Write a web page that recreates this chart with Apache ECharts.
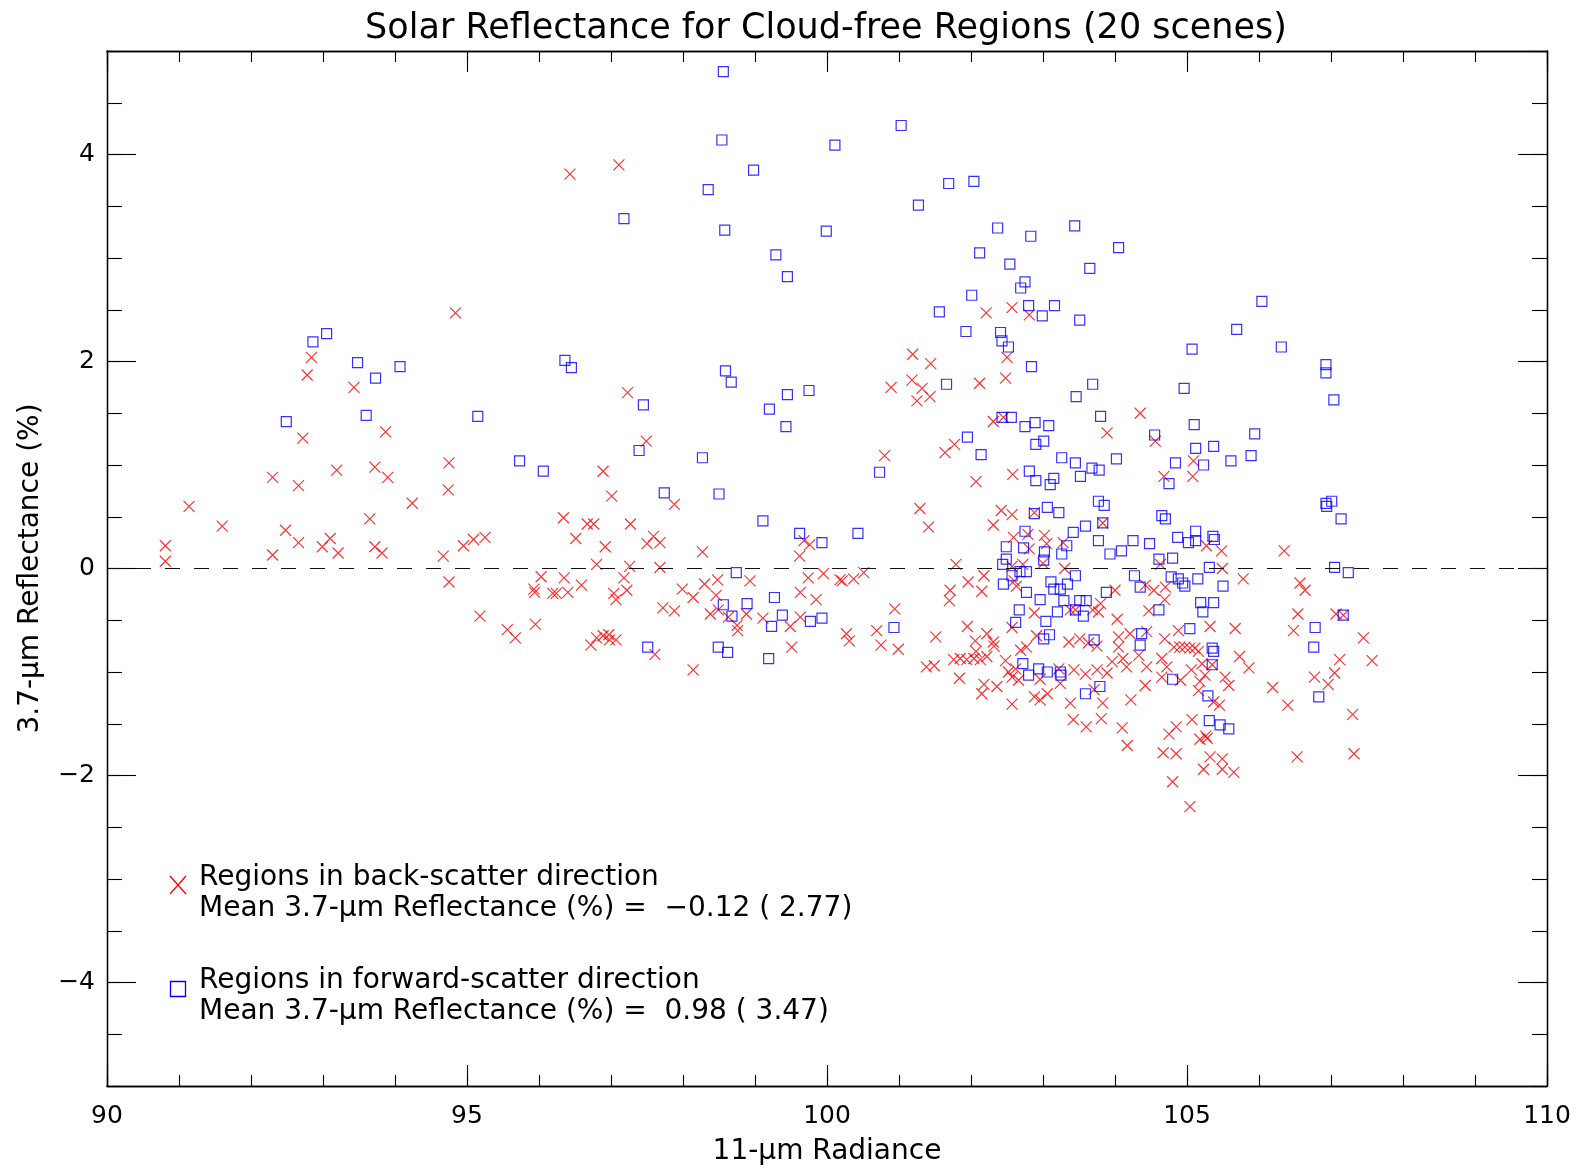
<!DOCTYPE html>
<html>
<head>
<meta charset="utf-8">
<script src="https://cdn.jsdelivr.net/npm/echarts@6/dist/echarts.min.js"></script>
<style>html,body{margin:0;padding:0;background:#fff}#chart{width:1576px;height:1171px}</style>
</head>
<body>
<div id="chart"></div>
<script>
const FONT = 'DejaVu Sans';
const titleText = 'Solar Reflectance for Cloud-free Regions (20 scenes)';
const xName = '11-μm Radiance';
const yName = '3.7-μm Reflectance (%)';
const xRange = [90, 110];
const yRange = [-5, 5];
const xMajorStep = 5;
const xMinorStep = 1;
const yMinorStep = 0.5;
const yMajorTicks = [-4, -2, 0, 2, 4];
const backLabel = 'Regions in back-scatter direction';
const backStats = 'Mean 3.7-μm Reflectance (%) =  −0.12 ( 2.77)';
const fwdLabel = 'Regions in forward-scatter direction';
const fwdStats = 'Mean 3.7-μm Reflectance (%) =  0.98 ( 3.47)';

// back-scatter regions: [11-um radiance, 3.7-um reflectance %]
const backScatter = [
[94.84,2.47],[92.84,2.04],[92.78,1.87],[93.43,1.75],[93.87,1.32],[92.72,1.26],[92.30,0.88],[92.66,0.80],[93.19,0.95],[93.72,0.98],
[93.90,0.88],[94.75,1.02],[94.74,0.76],[94.24,0.63],[91.14,0.60],[91.60,0.41],[93.65,0.48],[92.48,0.37],[92.66,0.25],[93.10,0.29],
[92.99,0.21],[93.21,0.15],[93.72,0.21],[93.82,0.15],[90.81,0.22],[90.81,0.07],[92.30,0.13],[94.67,0.12],[94.95,0.22],[95.09,0.28],
[95.25,0.30],[94.75,-0.13],[95.18,-0.46],
[97.11,3.90],[96.43,3.81],[97.23,1.70],[101.19,2.07],[101.44,1.98],[101.18,1.82],[100.89,1.75],[101.32,1.74],[101.43,1.66],[101.25,1.62],
[97.49,1.23],[96.89,0.94],[100.80,1.09],
[102.21,2.47],[102.57,2.52],[102.81,2.45],[102.50,2.04],[102.48,1.84],[102.12,1.79],
[97.01,0.70],[97.88,0.62],[96.34,0.49],[96.67,0.43],[96.76,0.43],[97.27,0.43],[96.51,0.29],[96.92,0.21],[97.50,0.24],[97.59,0.31],
[97.68,0.25],[98.27,0.16],[99.68,0.27],[99.76,0.23],[99.62,0.12],[101.29,0.58],[101.41,0.40],[96.80,0.04],[97.26,0.02],[97.68,0.01],
[96.03,-0.08],[96.35,-0.09],[96.59,-0.16],[95.93,-0.20],[95.94,-0.23],[96.19,-0.24],[96.24,-0.24],[96.40,-0.23],[97.18,-0.09],[97.22,-0.21],
[97.04,-0.24],[97.07,-0.30],[97.99,-0.20],[98.14,-0.28],[98.30,-0.15],[98.48,-0.11],[98.46,-0.26],[98.93,-0.12],[97.72,-0.38],[97.88,-0.41],
[98.38,-0.44],[98.49,-0.40],[98.63,-0.47],[98.75,-0.55],[98.76,-0.60],[98.88,-0.44],[99.11,-0.48],[99.49,-0.56],[99.63,-0.47],[99.63,-0.23],
[99.74,-0.09],[99.85,-0.30],[99.95,-0.05],[100.18,-0.11],[100.21,-0.12],[100.37,-0.10],[100.51,-0.04],[100.94,-0.39],[100.69,-0.60],[100.27,-0.63],
[100.31,-0.70],[100.75,-0.74],[100.99,-0.78],[101.51,-0.66],[101.38,-0.95],[101.49,-0.94],[99.51,-0.76],[98.14,-0.98],[97.61,-0.83],[95.56,-0.59],
[95.67,-0.67],[95.95,-0.54],[96.72,-0.74],[96.80,-0.67],[96.89,-0.65],[96.98,-0.69],[97.07,-0.69],[96.97,-0.64],
[104.35,1.50],[102.31,1.42],[102.45,1.46],[103.89,1.31],[104.56,1.23],[101.77,1.20],[101.64,1.12],[105.09,1.04],[105.08,0.89],[104.68,0.89],
[102.58,0.91],[102.07,0.84],[102.42,0.56],[102.57,0.52],[102.31,0.42],[102.88,0.54],[103.83,0.44],[102.59,0.30],[102.79,0.33],[103.02,0.32],
[103.05,0.24],[103.28,0.25],[102.81,0.19],[105.27,0.22],[105.48,0.17],[104.63,0.04],[102.57,0.02],[102.72,0.04],[103.00,0.05],[103.30,0.00],
[101.79,0.04],[105.49,0.00],[105.78,-0.10],[102.18,-0.07],[101.96,-0.13],[101.71,-0.21],[102.15,-0.22],[102.63,-0.17],[102.60,-0.12],[104.42,-0.16],
[104.54,-0.21],[104.70,-0.18],[104.00,-0.21],
[101.70,-0.31],[103.80,-0.34],[104.69,-0.30],[102.88,-0.43],[103.38,-0.40],[103.45,-0.40],[103.69,-0.40],[103.77,-0.42],[104.03,-0.49],[104.47,-0.41],
[105.32,-0.56],[104.88,-0.60],[105.67,-0.58],[102.57,-0.57],[101.95,-0.56],[102.22,-0.63],[102.06,-0.70],[102.31,-0.71],[102.32,-0.75],[102.91,-0.65],
[102.77,-0.76],[102.69,-0.79],[103.36,-0.71],[103.51,-0.68],[103.63,-0.72],[103.75,-0.75],[104.05,-0.66],[104.05,-0.76],[104.21,-0.63],[104.44,-0.61],
[104.69,-0.68],[104.82,-0.76],[104.90,-0.76],[104.97,-0.76],[105.04,-0.77],[105.11,-0.77],[105.16,-0.80],[105.35,-0.93],[105.73,-0.85],[105.86,-0.96],
[101.76,-0.88],[101.85,-0.87],[101.94,-0.88],[102.04,-0.87],[102.13,-0.88],[102.22,-0.85],[102.07,-0.80],[102.48,-0.89],[102.52,-1.00],[102.62,-0.97],
[102.96,-1.07],[102.66,-1.08],[102.57,-1.05],[103.22,-0.97],[103.43,-0.98],[103.59,-1.02],[103.75,-0.98],[103.89,-1.01],[103.96,-0.90],[104.11,-0.87],
[104.16,-0.95],[104.33,-0.84],[104.44,-0.95],[104.42,-1.13],[104.65,-0.87],[104.72,-0.95],[104.65,-1.05],[104.91,-1.08],[105.06,-0.98],[105.21,-0.92],
[105.25,-1.03],[105.18,-1.09],[105.16,-1.18],[105.53,-1.05],[105.58,-1.13],[105.37,-1.29],[105.45,-1.32],[103.71,-1.17],[103.83,-1.30],[103.38,-1.30],
[103.24,-1.11],[102.88,-1.24],[102.96,-1.27],[103.06,-1.21],[102.57,-1.31],[102.18,-1.12],[102.15,-1.21],[102.36,-1.14],[101.84,-1.06],[104.22,-1.27],
[104.10,-1.54],[104.17,-1.71],[103.42,-1.46],[103.60,-1.53],[103.81,-1.45],[104.75,-1.60],[104.85,-1.53],[105.07,-1.46],[104.67,-1.78],[104.85,-1.79],
[104.80,-2.06],[105.04,-2.30],[105.18,-1.65],[105.26,-1.62],[105.28,-1.64],[105.32,-1.82],[105.23,-1.94],[105.49,-1.84],[105.49,-1.94],[105.65,-1.97],
[106.35,0.17],[106.57,-0.14],[106.64,-0.21],[106.54,-0.44],[107.07,-0.44],[107.17,-0.45],[106.48,-0.60],[107.45,-0.67],[107.12,-0.88],[107.57,-0.89],
[107.05,-1.01],[106.77,-1.05],[106.96,-1.12],[106.19,-1.15],[106.40,-1.32],[107.30,-1.41],[106.53,-1.82],[107.32,-1.79]
];

// forward-scatter regions: [11-um radiance, 3.7-um reflectance %]
const forwardScatter = [
[98.56,4.80],[98.54,4.14],[101.03,4.28],[100.11,4.09],[98.98,3.85],[98.35,3.66],[101.69,3.72],[102.04,3.74],[97.18,3.38],[101.27,3.51],
[98.58,3.27],[99.99,3.26],[102.37,3.29],[103.44,3.31],[102.83,3.21],[104.05,3.10],[99.29,3.03],[102.12,3.05],[99.45,2.82],[102.54,2.94],
[103.65,2.90],[102.75,2.77],[102.69,2.71],[102.01,2.64],[101.56,2.48],[102.80,2.54],[103.16,2.54],[102.99,2.44],[103.51,2.40],[106.04,2.58],
[105.69,2.31],[106.31,2.14],[105.07,2.12],[101.93,2.29],[102.41,2.28],[102.43,2.20],[102.52,2.14],[102.84,1.95],[101.66,1.78],[103.69,1.78],
[104.96,1.74],[96.36,2.01],[96.45,1.94],[98.59,1.91],[98.67,1.80],[97.45,1.58],[99.45,1.68],[99.75,1.72],[99.20,1.54],[99.43,1.37],
[97.39,1.14],[95.73,1.04],[96.06,0.94],[98.27,1.07],[100.73,0.93],[95.15,1.47],
[92.86,2.19],[93.05,2.27],[93.48,1.99],[93.73,1.84],[94.07,1.95],[92.49,1.42],[93.60,1.48],
[97.74,0.73],[98.50,0.72],[99.11,0.46],[99.62,0.34],[99.93,0.25],[100.43,0.34],[98.74,-0.04],[98.56,-0.35],[98.68,-0.46],[98.89,-0.34],
[99.27,-0.28],[99.23,-0.56],[99.38,-0.45],[99.77,-0.51],[99.93,-0.48],[100.93,-0.57],[99.19,-0.87],[98.49,-0.76],[98.62,-0.81],[97.51,-0.76],
[103.46,1.66],[103.80,1.47],[105.10,1.39],[102.43,1.46],[102.56,1.46],[102.75,1.37],[102.89,1.41],[103.08,1.38],[104.55,1.29],[101.95,1.27],
[102.14,1.10],[102.90,1.20],[103.01,1.23],[105.94,1.30],[105.89,1.09],[105.61,1.04],[105.37,1.18],[105.12,1.16],[105.23,1.00],[104.84,1.02],
[104.75,0.82],[103.26,1.07],[103.45,1.02],[103.68,0.97],[103.78,0.95],[104.02,1.06],[102.81,0.94],[102.90,0.85],[103.15,0.87],[103.52,0.89],
[103.10,0.81],[103.77,0.65],[103.85,0.61],[102.88,0.53],[103.06,0.59],[103.22,0.54],[104.65,0.51],[104.70,0.48],[103.83,0.44],[103.59,0.41],
[103.42,0.35],[102.75,0.36],[103.33,0.22],[102.49,0.21],[102.73,0.20],[103.02,0.16],[103.26,0.14],[103.77,0.27],[103.93,0.14],[104.09,0.17],
[104.25,0.27],[104.48,0.24],[104.87,0.30],[105.02,0.25],[105.12,0.36],[105.12,0.27],[105.36,0.31],[105.38,0.28],[104.80,0.10],[104.61,0.09],
[102.49,0.09],[102.44,0.04],[103.01,0.08],[105.31,0.01],[102.45,-0.15],[102.57,-0.07],[102.68,-0.03],[102.77,-0.03],[103.11,-0.13],[103.45,-0.07],
[103.34,-0.15],[103.15,-0.20],[103.24,-0.20],[104.27,-0.07],[104.78,-0.08],[104.88,-0.10],[104.94,-0.14],[104.97,-0.17],[105.15,-0.10],[105.50,-0.17],
[104.35,-0.18],[103.88,-0.23],
[102.77,-0.23],[102.96,-0.30],[103.29,-0.31],[103.51,-0.31],[103.60,-0.31],[102.67,-0.40],[103.20,-0.42],[103.45,-0.40],[103.56,-0.46],[104.61,-0.40],
[105.19,-0.33],[105.37,-0.33],[105.22,-0.42],[105.04,-0.58],[102.62,-0.52],[103.04,-0.51],[103.01,-0.68],[103.09,-0.64],[103.71,-0.69],[104.37,-0.63],
[104.35,-0.74],[105.35,-0.77],[105.37,-0.80],[105.35,-0.93],[102.72,-0.92],[102.80,-1.03],[102.94,-0.97],[103.06,-1.00],[103.24,-1.00],[103.25,-1.03],
[104.80,-1.07],[105.29,-1.23],[103.79,-1.14],[103.59,-1.21],[105.31,-1.47],[105.46,-1.51],[105.58,-1.55],
[106.93,1.97],[106.93,1.89],[107.04,1.63],[107.01,0.65],[106.93,0.63],[106.94,0.60],[107.14,0.48],[107.05,0.01],[107.24,-0.04],[107.17,-0.45],
[106.78,-0.57],[106.76,-0.76],[106.83,-1.24]
];

const chart = echarts.init(document.getElementById('chart'), null, {renderer: 'canvas'});
const BLACK = '#000';
const axisLine = {show: true, onZero: false, lineStyle: {color: BLACK, width: 1.3}};
const fmt = v => (v < 0 ? '−' + Math.abs(v) : String(v));

function xAxisDef(pos, major) {
  const labelled = major && pos === 'bottom';
  return {
    type: 'value', position: pos, min: xRange[0], max: xRange[1],
    interval: major ? xMajorStep : xMinorStep,
    axisLine: axisLine,
    axisTick: {show: true, inside: true, length: major ? 21 : 11, lineStyle: {color: BLACK, width: 1.1}},
    axisLabel: {show: labelled, margin: 18, fontSize: 25, fontFamily: FONT, color: BLACK, formatter: fmt},
    splitLine: {show: false},
    name: labelled ? xName : '', nameLocation: 'middle', nameGap: 52,
    nameTextStyle: {fontSize: 28, fontFamily: FONT, color: BLACK}
  };
}
function yAxisDef(pos, major) {
  const labelled = major && pos === 'left';
  const a = {
    type: 'value', position: pos, min: yRange[0], max: yRange[1],
    axisLine: axisLine,
    axisTick: {show: true, inside: true, length: major ? 29 : 15, lineStyle: {color: BLACK, width: 1.1}},
    axisLabel: {show: labelled, margin: 12, fontSize: 25, fontFamily: FONT, color: BLACK, formatter: fmt},
    splitLine: {show: false},
    name: labelled ? yName : '', nameLocation: 'middle', nameGap: 62,
    nameTextStyle: {fontSize: 28, fontFamily: FONT, color: BLACK}
  };
  if (major) {
    a.axisTick.customValues = yMajorTicks;
    a.axisLabel.customValues = yMajorTicks;
  } else {
    a.interval = yMinorStep;
  }
  return a;
}

const legendText = (t, y) => ({
  type: 'text', x: 199, y: y, silent: true,
  style: {text: t, fontSize: 28, fontFamily: FONT, fill: BLACK, align: 'left', verticalAlign: 'middle'}
});

chart.setOption({
  animation: false,
  backgroundColor: '#fff',
  grid: {left: 107, right: 29, top: 51, bottom: 80, containLabel: false},
  xAxis: [xAxisDef('bottom', true), xAxisDef('bottom', false), xAxisDef('top', true), xAxisDef('top', false)],
  yAxis: [yAxisDef('left', true), yAxisDef('left', false), yAxisDef('right', true), yAxisDef('right', false)],
  series: [
    {
      type: 'scatter', name: backLabel, data: backScatter, xAxisIndex: 0, yAxisIndex: 0,
      symbol: 'path://M0,0L10,10M10,0L0,10', symbolSize: 11,
      itemStyle: {color: 'rgba(0,0,0,0)', borderColor: '#ff0000', borderWidth: 1.2},
      emphasis: {disabled: true}, z: 3,
      markLine: {
        silent: true, symbol: ['none', 'none'], label: {show: false}, animation: false,
        lineStyle: {color: '#111', type: [15, 14], width: 1.2},
        emphasis: {disabled: true},
        data: [{yAxis: 0}]
      }
    },
    {
      type: 'scatter', name: fwdLabel, data: forwardScatter, xAxisIndex: 0, yAxisIndex: 0,
      symbol: 'rect', symbolSize: 10,
      itemStyle: {color: 'rgba(0,0,0,0)', borderColor: '#0000ff', borderWidth: 1.2},
      emphasis: {disabled: true}, z: 4
    }
  ],
  graphic: [
    {type: 'text', x: 826, y: 29, silent: true,
     style: {text: titleText, fontSize: 35, fontFamily: FONT, fill: BLACK, align: 'center', verticalAlign: 'middle'}},
    {type: 'line', silent: true, shape: {x1: 170, y1: 876, x2: 186, y2: 894}, style: {stroke: '#ff0000', lineWidth: 1.3}},
    {type: 'line', silent: true, shape: {x1: 186, y1: 876, x2: 170, y2: 894}, style: {stroke: '#ff0000', lineWidth: 1.3}},
    {type: 'rect', silent: true, shape: {x: 170.5, y: 981.5, width: 15, height: 15}, style: {fill: 'none', stroke: '#0000ff', lineWidth: 1.3}},
    legendText(backLabel, 878),
    legendText(backStats, 909),
    legendText(fwdLabel, 981),
    legendText(fwdStats, 1012)
  ]
});
</script>
</body>
</html>
